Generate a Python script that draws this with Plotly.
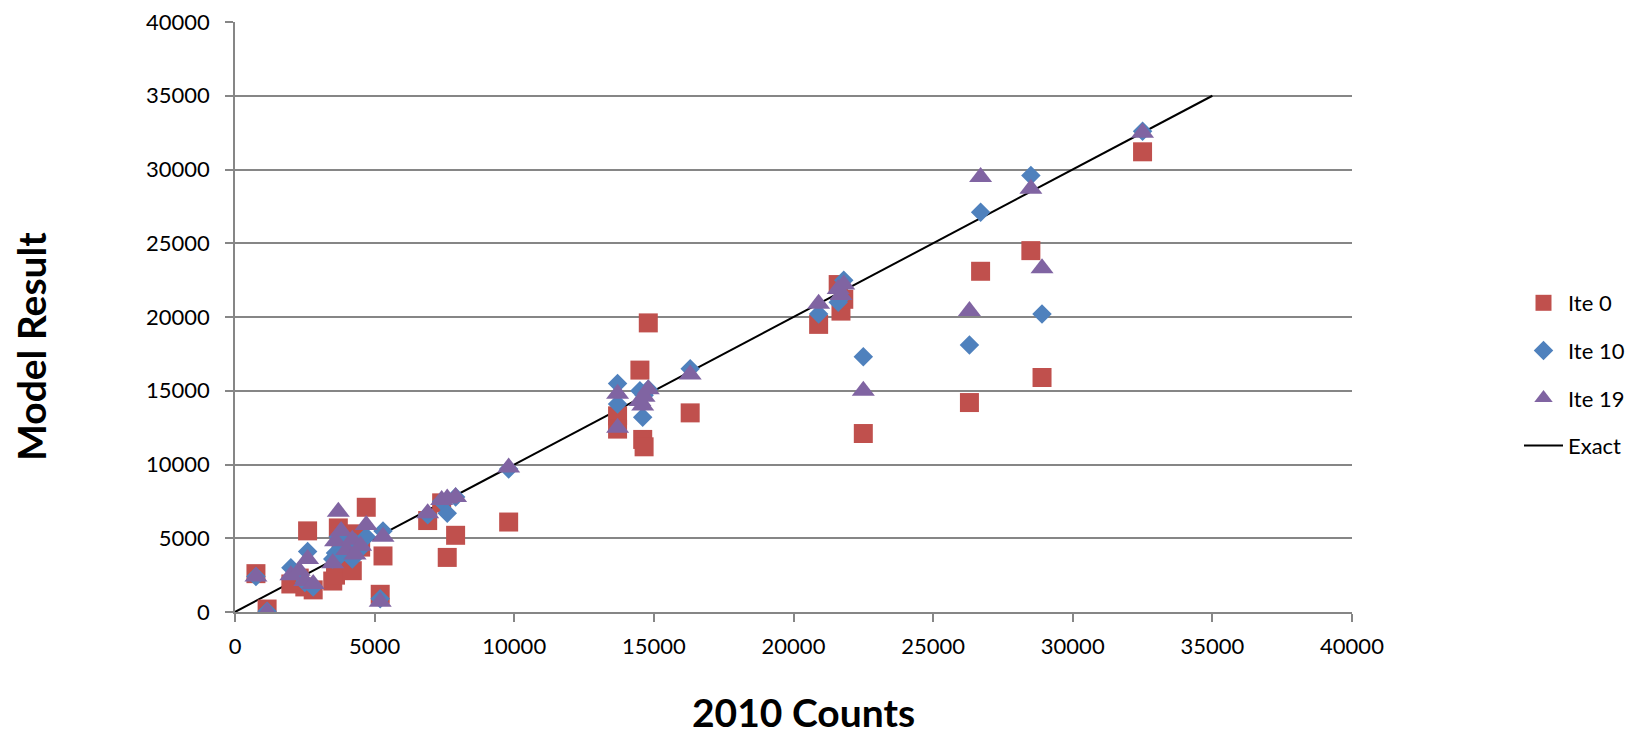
import plotly.graph_objects as go

# 2010 observed counts (shared x positions)
counts_2010 = [750, 1150, 2000, 2300, 2500, 2600, 2800, 3500, 3600, 3700,
               3800, 4000, 4200, 4300, 4500, 4700, 5200, 5300, 6900, 7400,
               7600, 7900, 9800, 13700, 13700, 14500, 14600, 14650, 14800, 16300,
               20900, 21600, 21700, 21800, 22500, 26300, 26700, 28500, 28900, 32500]

ite0 = [2600, 200, 1900, 2300, 1700, 5500, 1500, 2100, 2500, 5700,
        4500, 3300, 2800, 5300, 4400, 7100, 1200, 3800, 6200, 7400,
        3700, 5200, 6100, 13300, 12400, 16400, 11700, 11200, 19600, 13500,
        19500, 22200, 20400, 21200, 12100, 14200, 23100, 24500, 15900, 31200]

ite10 = [2400, 50, 3000, 2600, 2000, 4100, 1700, 3600, 4000, 5100,
         3900, 4500, 3600, 4700, 4300, 5100, 900, 5500, 6600, 7500,
         6700, 7800, 9700, 15500, 14100, 15000, 13200, 14700, 15100, 16500,
         20200, 21000, 21300, 22500, 17300, 18100, 27100, 29600, 20200, 32600]

ite19 = [2400, 0, 2500, 2800, 2100, 3600, 1900, 3300, 4800, 6800,
         5500, 4200, 4900, 3900, 4500, 5900, 700, 5100, 6700, 7600,
         7700, 7800, 9800, 14800, 12500, 14300, 14000, 14600, 15100, 16100,
         20900, 21900, 21500, 22200, 15000, 20400, 29500, 28700, 23300, 32500]

exact_x = [0, 35000]
exact_y = [0, 35000]

x_ticks = [0, 5000, 10000, 15000, 20000, 25000, 30000, 35000, 40000]
y_ticks = [0, 5000, 10000, 15000, 20000, 25000, 30000, 35000, 40000]

# page body has an 8px default margin: shrink figure to compensate
OFF = 8
W, H = 1640 - OFF, 738 - OFF
ML, MT = 235 - OFF, 22 - OFF
PW, PH = 1117, 590
MR = W - ML - PW
MB = H - MT - PH

def px(xp):  # page x -> paper
    return (xp - OFF - ML) / PW

def py(yp):  # page y -> paper
    return (H - MB - (yp - OFF)) / PH

FONT = "Lato"
GRID = "#868686"

fig = go.Figure()
fig.add_trace(go.Scatter(x=exact_x, y=exact_y, mode="lines", name="Exact",
                         line=dict(color="black", width=2), legendrank=4))
fig.add_trace(go.Scatter(x=counts_2010, y=ite0, mode="markers", name="Ite 0",
                         marker=dict(symbol="square", size=19, color="#C0504D"),
                         legendrank=1))
fig.add_trace(go.Scatter(x=counts_2010, y=ite10, mode="markers", name="Ite 10",
                         marker=dict(symbol="diamond", size=15, color="#4F81BD"),
                         legendrank=2))
fig.add_trace(go.Scatter(x=counts_2010, y=ite19, mode="markers", name="Ite 19",
                         marker=dict(symbol="triangle-up", size=20, color="#8064A2"),
                         legendrank=3))

axis_common = dict(showline=True, linecolor=GRID, linewidth=1.5,
                   ticks="outside", ticklen=8, tickcolor=GRID, tickwidth=1.5,
                   tickfont=dict(family=FONT, size=22, color="black"),
                   zeroline=False, ticklabeloverflow="allow", automargin=False)

fig.update_xaxes(range=[0, 40000], tickvals=x_ticks,
                 ticktext=[str(v) for v in x_ticks], showgrid=False,
                 ticklabelstandoff=6, **axis_common)
fig.update_yaxes(range=[0, 40000], tickvals=y_ticks,
                 ticktext=[str(v) for v in y_ticks], showgrid=True,
                 gridcolor=GRID, gridwidth=1.5, ticklabelstandoff=11,
                 **axis_common)

fig.add_annotation(text="<b>Model Result</b>", textangle=-90, showarrow=False,
                   xref="paper", yref="paper",
                   x=px(31), y=py(347),
                   xanchor="center", yanchor="middle",
                   font=dict(family=FONT, size=39, color="black"))
fig.add_annotation(text="<b>2010 Counts</b>", showarrow=False,
                   xref="paper", yref="paper",
                   x=px(803), y=py(737),
                   xanchor="center", yanchor="bottom",
                   font=dict(family=FONT, size=39, color="black"))

fig.update_layout(
    width=W, height=H,
    margin=dict(l=ML, r=MR, t=MT, b=MB, autoexpand=False),
    plot_bgcolor="white", paper_bgcolor="white",
    legend=dict(x=px(1519), y=py(282),
                xanchor="left", yanchor="top",
                font=dict(family=FONT, size=22, color="black"),
                tracegroupgap=16, itemwidth=39,
                bgcolor="rgba(0,0,0,0)"),
)
for i, tr in enumerate(fig.data):
    tr.legendgroup = "g%d" % i

fig.write_html("out.html")
